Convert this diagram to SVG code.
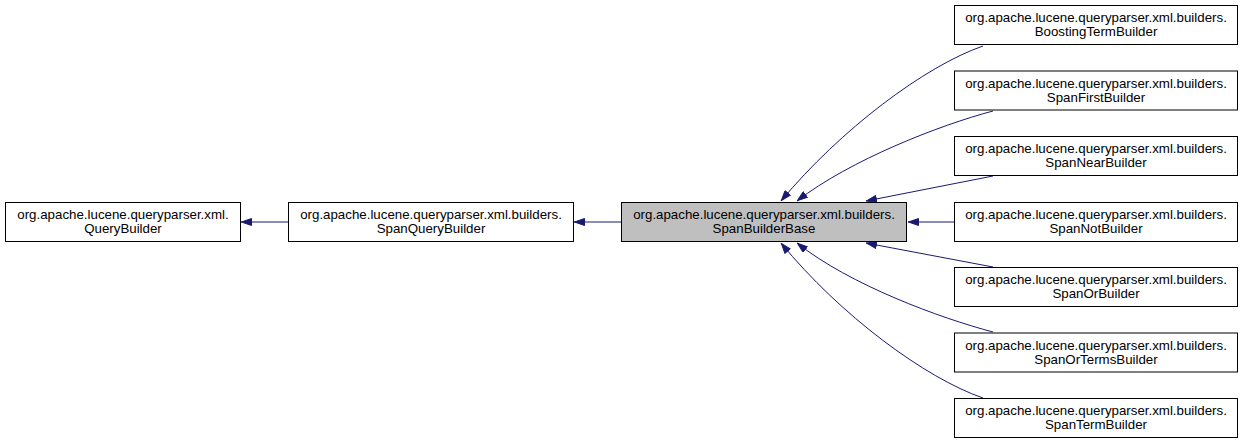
<svg xmlns="http://www.w3.org/2000/svg" width="1245" height="444" viewBox="0 0 1245 444">
<style>
.box{fill:#ffffff;stroke:#000000;stroke-width:1}
.cur{fill:#bfbfbf;stroke:#000000;stroke-width:1}
text{font-family:"Liberation Sans",Arial,sans-serif;font-size:13.3px;fill:#000000;text-anchor:middle}
.edge{fill:none;stroke:#191970;stroke-width:1;marker-end:url(#ah)}
</style>
<defs>
<marker id="ah" viewBox="0 0 11 8" refX="11" refY="4" markerWidth="11" markerHeight="8" markerUnits="userSpaceOnUse" orient="auto">
<path d="M0.5,0.5 L10.5,4 L0.5,7.5 z" fill="#191970" stroke="#191970" stroke-width="1"/>
</marker>
</defs>
<rect width="1245" height="444" fill="#ffffff"/>
<g id="edges">
<path class="edge" d="M288,222 L241,222"/>
<path class="edge" d="M621,222 L574,222"/>
<path class="edge" d="M954,222 L908,222"/>
<path class="edge" d="M983,46 C925,66 840,130 781,201"/>
<path class="edge" d="M993,111 C940,125 850,160 797,201"/>
<path class="edge" d="M993,176 L866,201"/>
<path class="edge" d="M993,267 L866,243"/>
<path class="edge" d="M993,332 C940,318 850,285 797,243"/>
<path class="edge" d="M983,398 C925,378 840,315 781,243"/>
</g>
<g id="QueryBuilder">
<rect class="box" x="5.5" y="202.5" width="235" height="39"/>
<text x="123" y="219">org.apache.lucene.queryparser.xml.</text>
<text x="123" y="233">QueryBuilder</text>
</g>
<g id="SpanQueryBuilder">
<rect class="box" x="288.5" y="202.5" width="285" height="39"/>
<text x="431" y="219">org.apache.lucene.queryparser.xml.builders.</text>
<text x="431" y="233">SpanQueryBuilder</text>
</g>
<g id="SpanBuilderBase">
<rect class="cur" x="621.5" y="202.5" width="285" height="39"/>
<text x="764" y="219">org.apache.lucene.queryparser.xml.builders.</text>
<text x="764" y="233">SpanBuilderBase</text>
</g>
<g id="BoostingTermBuilder">
<rect class="box" x="954.5" y="5.5" width="283" height="39"/>
<text x="1096" y="22">org.apache.lucene.queryparser.xml.builders.</text>
<text x="1096" y="36">BoostingTermBuilder</text>
</g>
<g id="SpanFirstBuilder">
<rect class="box" x="954.5" y="71" width="283" height="39"/>
<text x="1096" y="87.5">org.apache.lucene.queryparser.xml.builders.</text>
<text x="1096" y="101.5">SpanFirstBuilder</text>
</g>
<g id="SpanNearBuilder">
<rect class="box" x="954.5" y="136.5" width="283" height="39"/>
<text x="1096" y="153">org.apache.lucene.queryparser.xml.builders.</text>
<text x="1096" y="167">SpanNearBuilder</text>
</g>
<g id="SpanNotBuilder">
<rect class="box" x="954.5" y="202.5" width="283" height="39"/>
<text x="1096" y="219">org.apache.lucene.queryparser.xml.builders.</text>
<text x="1096" y="233">SpanNotBuilder</text>
</g>
<g id="SpanOrBuilder">
<rect class="box" x="954.5" y="267.5" width="283" height="39"/>
<text x="1096" y="284">org.apache.lucene.queryparser.xml.builders.</text>
<text x="1096" y="298">SpanOrBuilder</text>
</g>
<g id="SpanOrTermsBuilder">
<rect class="box" x="954.5" y="333" width="283" height="39"/>
<text x="1096" y="349.5">org.apache.lucene.queryparser.xml.builders.</text>
<text x="1096" y="363.5">SpanOrTermsBuilder</text>
</g>
<g id="SpanTermBuilder">
<rect class="box" x="954.5" y="398.5" width="283" height="39"/>
<text x="1096" y="415">org.apache.lucene.queryparser.xml.builders.</text>
<text x="1096" y="429">SpanTermBuilder</text>
</g>
</svg>
